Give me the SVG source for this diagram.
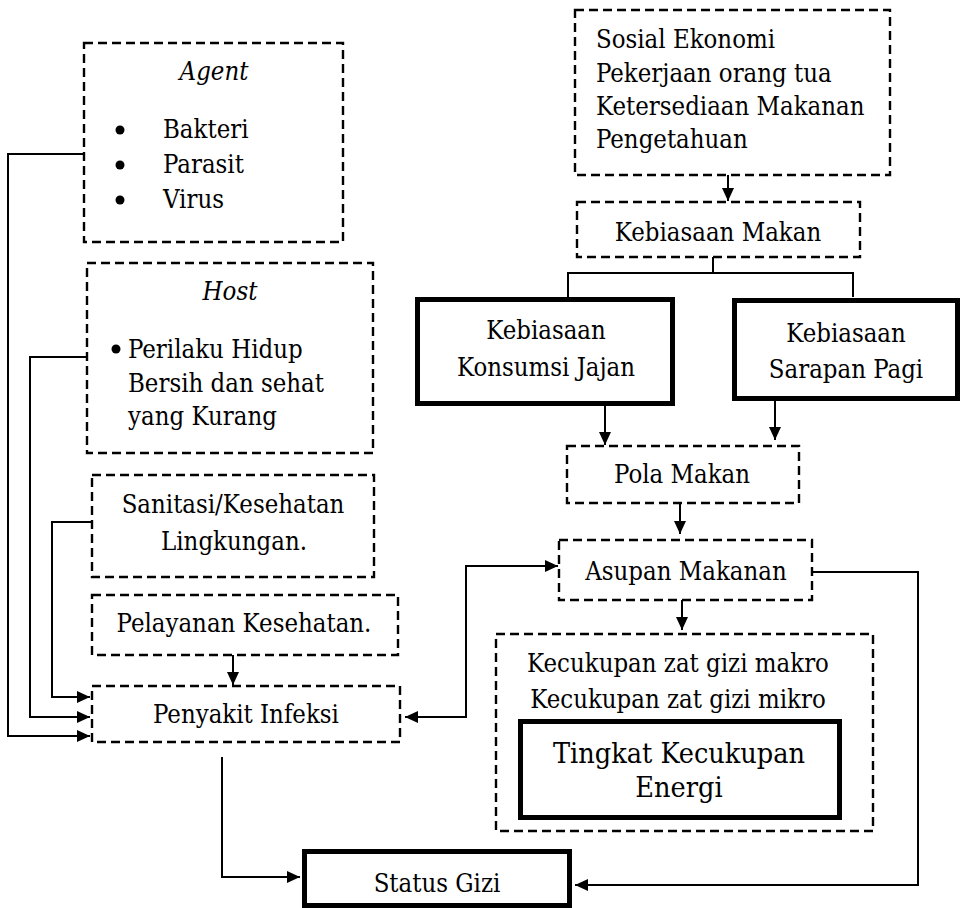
<svg xmlns="http://www.w3.org/2000/svg" width="964" height="908" viewBox="0 0 964 908" font-family="DejaVu Serif Condensed, DejaVu Serif, serif" font-stretch="condensed" font-size="25.5">
<style>
.c{text-anchor:middle}
.i{font-style:italic}
.d{fill:#fff;stroke:#000;stroke-width:2.4;stroke-dasharray:9,5}
.t{fill:#fff;stroke:#000;stroke-width:5}
.l{fill:none;stroke:#000;stroke-width:2}
</style>
<defs>
<marker id="a" markerUnits="userSpaceOnUse" markerWidth="14" markerHeight="12" refX="13" refY="6" orient="auto-start-reverse"><path d="M0,0 L13,6 L0,12 z" fill="#000"/></marker>
</defs>
<rect width="964" height="908" fill="#fff"/>
<g id="connectors">
<path class="l" d="M84,154 H8 V736 H90" marker-end="url(#a)"/>
<path class="l" d="M87,357 H30 V717 H90" marker-end="url(#a)"/>
<path class="l" d="M92,522 H52 V697 H90" marker-end="url(#a)"/>
<path class="l" d="M233,655 V685" marker-end="url(#a)"/>
<path class="l" d="M222,757 V877 H300" marker-end="url(#a)"/>
<path class="l" d="M728,175 V201" marker-end="url(#a)"/>
<path class="l" d="M713,257 V273 M568,297 V273 H853 V297"/>
<path class="l" d="M605,406 V445" marker-end="url(#a)"/>
<path class="l" d="M775,401 V440" marker-end="url(#a)"/>
<path class="l" d="M680,503 V534" marker-end="url(#a)"/>
<path class="l" d="M405,717 H466 V566 H558" marker-start="url(#a)" marker-end="url(#a)"/>
<path class="l" d="M682,600 V630" marker-end="url(#a)"/>
<path class="l" d="M812,572 H918 V885 H575" marker-end="url(#a)"/>
</g>
<g id="agent">
<rect class="d" x="84" y="43" width="259" height="199"/>
<text class="c i" x="214" y="80">Agent</text>
<circle cx="120" cy="130" r="4.5"/><circle cx="120" cy="165" r="4.5"/><circle cx="120" cy="200" r="4.5"/>
<text x="163" y="138">Bakteri</text>
<text x="163" y="173">Parasit</text>
<text x="163" y="208">Virus</text>
</g>
<g id="host">
<rect class="d" x="87" y="263" width="286" height="190"/>
<text class="c i" x="230" y="300">Host</text>
<circle cx="116" cy="349" r="4.5"/>
<text x="128" y="358">Perilaku Hidup</text>
<text x="128" y="392">Bersih dan sehat</text>
<text x="128" y="425">yang Kurang</text>
</g>
<g id="sanitasi">
<rect class="d" x="92" y="475" width="282" height="102"/>
<text class="c" x="233" y="513">Sanitasi/Kesehatan</text>
<text class="c" x="234" y="550">Lingkungan.</text>
</g>
<g id="pelayanan">
<rect class="d" x="92" y="595" width="306" height="60"/>
<text class="c" x="244" y="632">Pelayanan Kesehatan.</text>
</g>
<g id="penyakit">
<rect class="d" x="92" y="686" width="308" height="56"/>
<text class="c" x="246" y="723">Penyakit Infeksi</text>
</g>
<g id="sosial">
<rect class="d" x="575" y="10" width="315" height="165"/>
<text x="596" y="48">Sosial Ekonomi</text>
<text x="596" y="82">Pekerjaan orang tua</text>
<text x="596" y="115">Ketersediaan Makanan</text>
<text x="596" y="148">Pengetahuan</text>
</g>
<g id="kebiasaan-makan">
<rect class="d" x="577" y="202" width="283" height="55"/>
<text class="c" x="718" y="241">Kebiasaan Makan</text>
</g>
<g id="konsumsi-jajan">
<rect class="t" x="417.5" y="299.5" width="255" height="104"/>
<text class="c" x="546" y="339">Kebiasaan</text>
<text class="c" x="546" y="376">Konsumsi Jajan</text>
</g>
<g id="sarapan-pagi">
<rect class="t" x="734.5" y="300.5" width="223" height="98"/>
<text class="c" x="846" y="342">Kebiasaan</text>
<text class="c" x="846" y="378">Sarapan Pagi</text>
</g>
<g id="pola-makan">
<rect class="d" x="567" y="446" width="232" height="57"/>
<text class="c" x="682" y="483">Pola Makan</text>
</g>
<g id="asupan-makanan">
<rect class="d" x="559" y="540" width="253" height="60"/>
<text class="c" x="686" y="580">Asupan Makanan</text>
</g>
<g id="kecukupan">
<rect class="d" x="496" y="634" width="377" height="197"/>
<text class="c" x="678" y="672">Kecukupan zat gizi makro</text>
<text class="c" x="678" y="708">Kecukupan zat gizi mikro</text>
</g>
<g id="tingkat-kecukupan">
<rect class="t" x="520.5" y="721.5" width="319" height="96"/>
<text class="c" x="679" y="763" font-size="28.5">Tingkat Kecukupan</text>
<text class="c" x="679" y="797" font-size="28.5">Energi</text>
</g>
<g id="status-gizi">
<rect class="t" x="304.5" y="851.5" width="265" height="54"/>
<text class="c" x="437" y="892">Status Gizi</text>
</g>
</svg>
